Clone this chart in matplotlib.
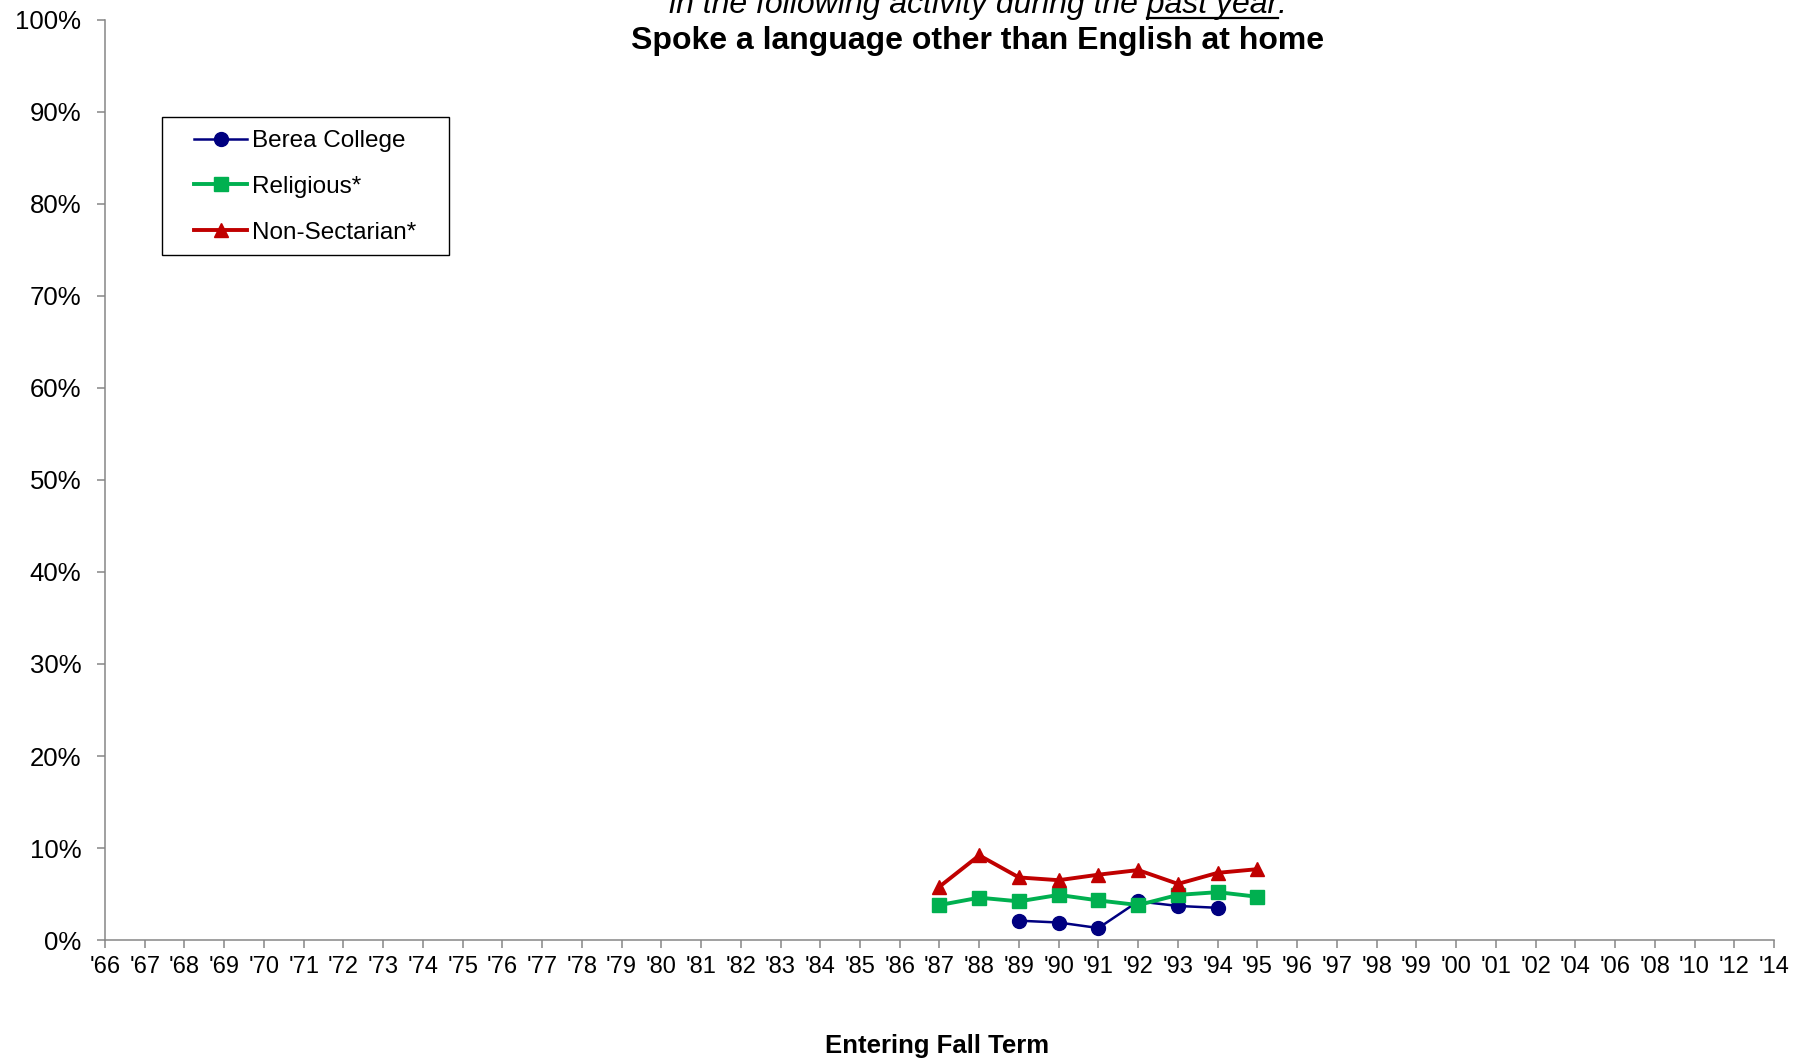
import matplotlib
matplotlib.use("Agg")
import matplotlib.pyplot as plt
from matplotlib.patches import Rectangle
from matplotlib.ticker import FuncFormatter

plt.rcParams["font.family"] = ["Liberation Sans", "DejaVu Sans"]

# Entering fall term categories
years = ["'66", "'67", "'68", "'69", "'70", "'71", "'72", "'73", "'74", "'75",
         "'76", "'77", "'78", "'79", "'80", "'81", "'82", "'83", "'84", "'85",
         "'86", "'87", "'88", "'89", "'90", "'91", "'92", "'93", "'94", "'95",
         "'96", "'97", "'98", "'99", "'00", "'01", "'02", "'04", "'06", "'08",
         "'10", "'12", "'14"]

# Percent of students who spoke a language other than English at home
berea_years = ["'89", "'90", "'91", "'92", "'93", "'94"]
berea = [2.1, 1.9, 1.3, 4.2, 3.7, 3.5]

norm_years = ["'87", "'88", "'89", "'90", "'91", "'92", "'93", "'94", "'95"]
religious = [3.8, 4.6, 4.2, 4.9, 4.3, 3.8, 4.9, 5.2, 4.7]
nonsectarian = [5.8, 9.2, 6.8, 6.5, 7.1, 7.6, 6.1, 7.3, 7.7]

y_ticks = [0, 10, 20, 30, 40, 50, 60, 70, 80, 90, 100]

W, H = 1812, 1059
fig = plt.figure(figsize=(W / 100, H / 100), dpi=100)
ax = fig.add_axes([105 / W, 1 - 940 / H, (1774 - 105) / W, (940 - 20) / H])

pos = {y: i for i, y in enumerate(years)}
ax.plot([pos[y] for y in berea_years], berea, color="#000080", lw=1.8,
        marker="o", ms=10, label="Berea College", clip_on=False)
ax.plot([pos[y] for y in norm_years], religious, color="#00B050", lw=2.8,
        marker="s", ms=9.5, label="Religious*", clip_on=False)
ax.plot([pos[y] for y in norm_years], nonsectarian, color="#C00000", lw=2.8,
        marker="^", ms=10.5, label="Non-Sectarian*", clip_on=False)

ax.set_xlim(0, len(years) - 1)
ax.set_ylim(0, 100)
ax.set_xticks(range(len(years)))
ax.set_xticklabels(years)
ax.set_yticks(y_ticks)
ax.yaxis.set_major_formatter(FuncFormatter(lambda v, p: f"{int(v)}%"))

grey = "#868686"
for s in ("top", "right"):
    ax.spines[s].set_visible(False)
for s in ("left", "bottom"):
    ax.spines[s].set_color(grey)
    ax.spines[s].set_linewidth(1.1)
ax.tick_params(axis="x", direction="out", length=5.5, width=1.1, color=grey,
               labelsize=17, pad=6)
ax.tick_params(axis="y", direction="out", length=5.5, width=1.1, color=grey,
               labelsize=18.5, pad=11.5)

fig.text(937 / W, 1 - 1053 / H, "Entering Fall Term", ha="center",
         va="baseline", fontsize=18.5, fontweight="bold")

# Title lines
cx = 978 / W
fig.text(cx, 1 - 49 / H, "Spoke a language other than English at home",
         ha="center", va="baseline", fontsize=23, fontweight="bold")
sub = "in the following activity during the past year:"
t_sub = fig.text(cx, 1 - 13 / H, sub, ha="center", va="baseline",
                 fontsize=23, style="italic")

fig.canvas.draw()
renderer = fig.canvas.get_renderer()


def text_width(s):
    t = fig.text(0, 0, s, fontsize=23, style="italic")
    w = t.get_window_extent(renderer).width
    t.remove()
    return w


bb = t_sub.get_window_extent(renderer)
x_start = bb.x0 + text_width("in the following activity during the .") - text_width(".")
x_end = bb.x0 + text_width("in the following activity during the past year")
uy = 1 - 18 / H
fig.add_artist(plt.Line2D([x_start / W, x_end / W], [uy, uy], color="black",
                          lw=1.6, transform=fig.transFigure))

# Legend
fig.add_artist(Rectangle((162 / W, 1 - 255 / H), (449 - 162) / W, (255 - 117) / H,
                         transform=fig.transFigure, fill=False,
                         edgecolor="black", lw=1.0))
ax.legend(loc="upper left", bbox_to_anchor=(194 / W, 1 - 130 / H),
          bbox_transform=fig.transFigure, frameon=False, fontsize=17.5,
          borderpad=0, borderaxespad=0, handlelength=2.2,
          handletextpad=0.2, labelspacing=0.98)

fig.savefig("out.png", dpi=100)
